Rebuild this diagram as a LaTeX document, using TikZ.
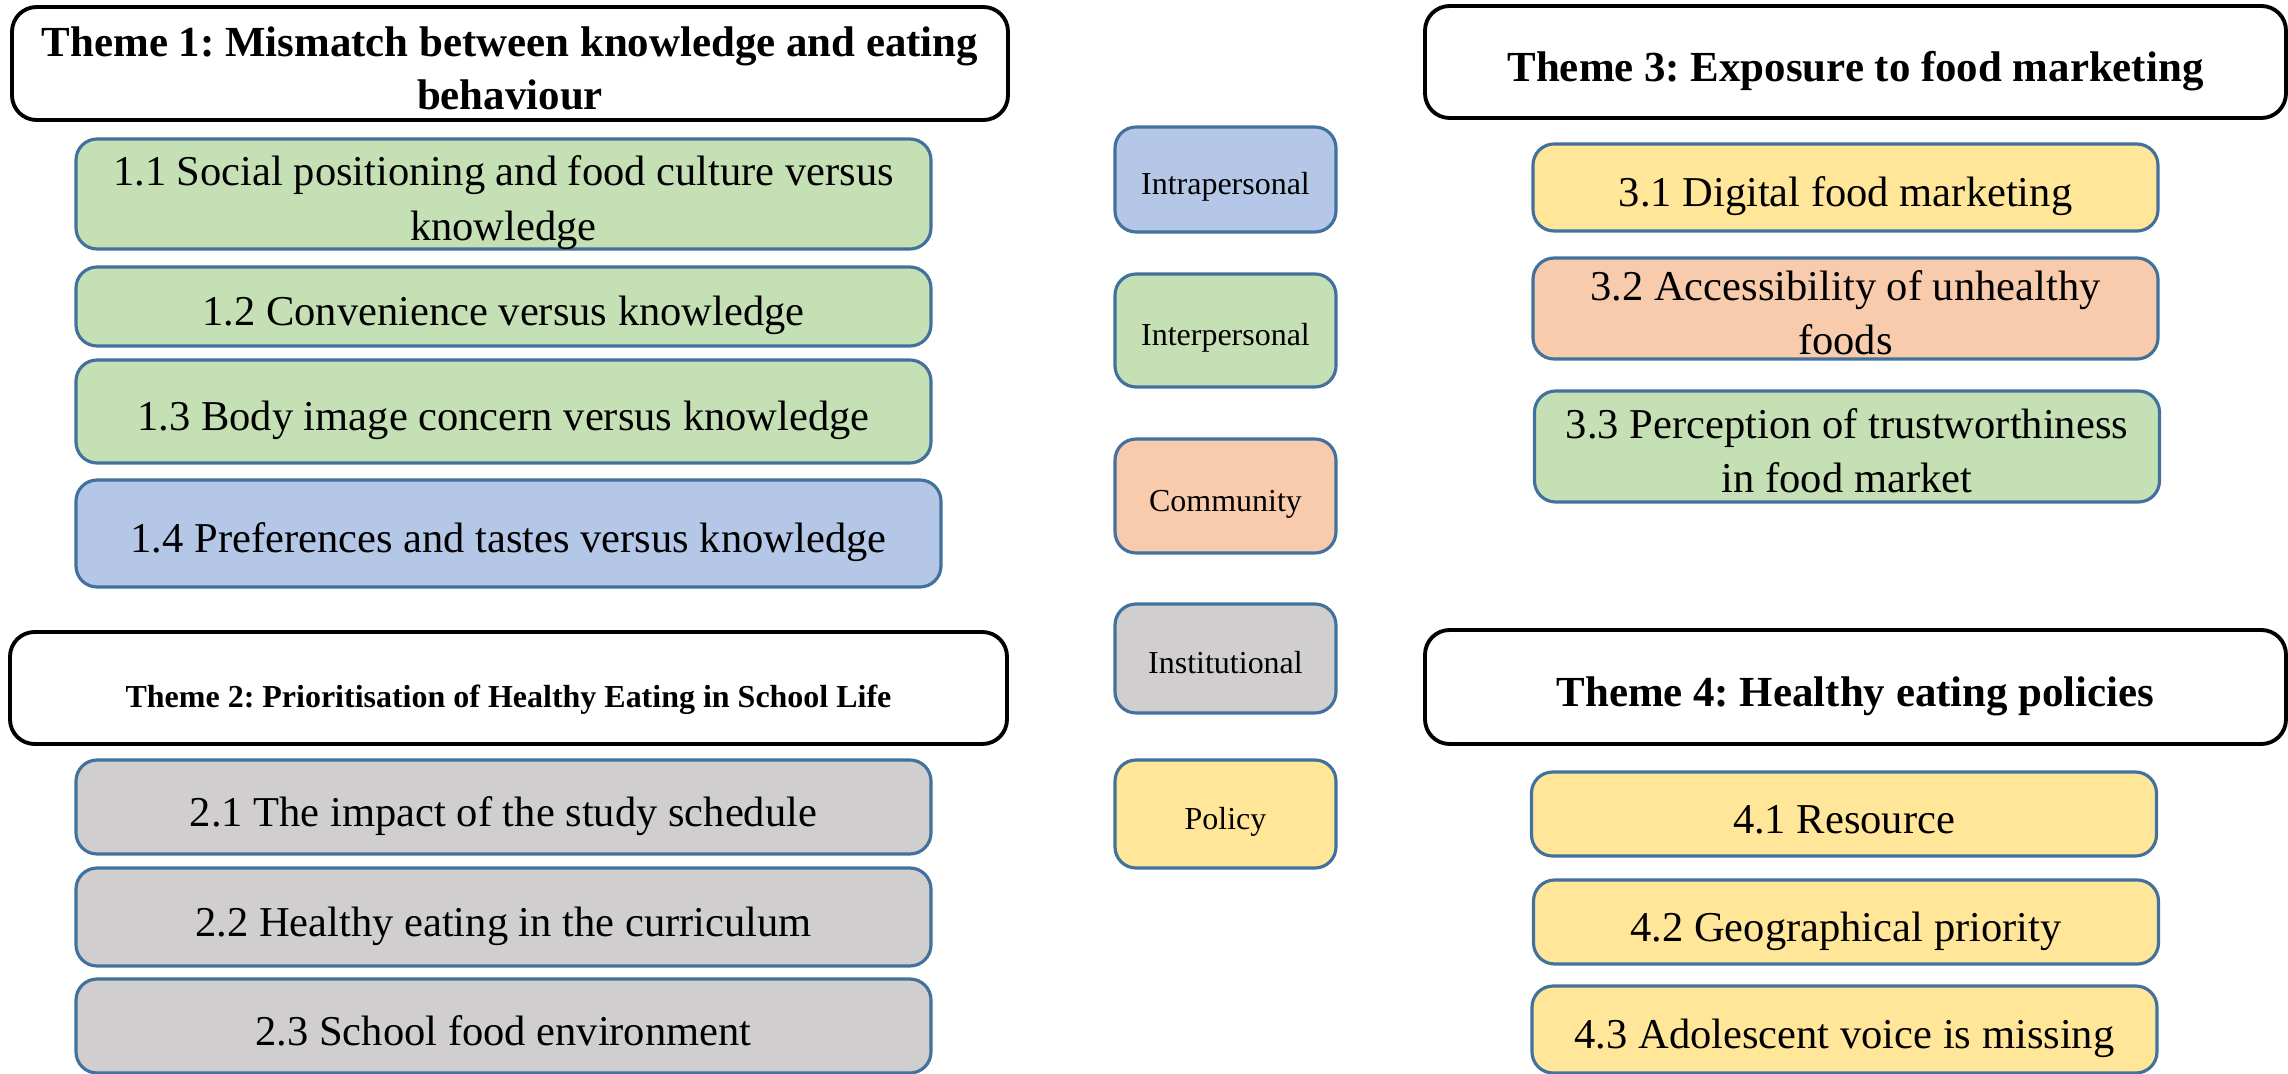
\documentclass[tikz,border=0pt]{standalone}
\usepackage{fontspec}
\setmainfont{Liberation Serif}
\frenchspacing
\definecolor{intra}{HTML}{B4C7E7}
\definecolor{inter}{HTML}{C5E0B4}
\definecolor{commun}{HTML}{F8CBAD}
\definecolor{instit}{HTML}{D0CECE}
\definecolor{polic}{HTML}{FFE699}
\definecolor{edge}{HTML}{41719C}
\newcommand{\lift}{\rule{0pt}{10.9pt}}
\tikzset{
  theme/.style={draw=black, line width=1.1pt, rounded corners=7pt, fill=white,
    align=center, inner sep=0pt, text depth=0pt, font=\bfseries\fontsize{12.2}{15}\selectfont,
    execute at begin node={\rule{0pt}{10.9pt}}},
  sub/.style={draw=edge, line width=0.9pt, rounded corners=6pt,
    align=center, inner sep=0pt, text depth=0pt, font=\fontsize{12.1}{15.5}\selectfont,
    execute at begin node={\rule{0pt}{10.9pt}}},
  level/.style={draw=edge, line width=0.9pt, rounded corners=6pt,
    align=center, inner sep=0pt, text depth=0pt, minimum width=2.21cm, font=\fontsize{9.1}{11}\selectfont,
    execute at begin node={\rule{0pt}{8.6pt}}}
}
\begin{document}
\begin{tikzpicture}
  \useasboundingbox (0,0) rectangle (22.88,-10.74);
  \node[theme, minimum width=9.96cm, minimum height=1.13cm] (t1) at (5.10,-0.635)
    {\lift Theme 1: Mismatch between knowledge and eating\\behaviour};
  \node[sub, fill=inter, minimum width=8.55cm, minimum height=1.10cm] (s11) at (5.035,-1.94)
    {\lift 1.1 Social positioning and food culture versus\\knowledge};
  \node[sub, fill=inter, minimum width=8.55cm, minimum height=0.79cm] (s12) at (5.035,-3.065)
    {1.2 Convenience versus knowledge};
  \node[sub, fill=inter, minimum width=8.55cm, minimum height=1.03cm] (s13) at (5.035,-4.115)
    {1.3 Body image concern versus knowledge};
  \node[sub, fill=intra, minimum width=8.65cm, minimum height=1.07cm] (s14) at (5.085,-5.335)
    {1.4 Preferences and tastes versus knowledge};

  \node[theme, font=\bfseries\fontsize{9.1}{11}\selectfont, execute at begin node={\rule{0pt}{8pt}},
    minimum width=9.97cm, minimum height=1.12cm] (t2) at (5.085,-6.88)
    {Theme 2: Prioritisation of Healthy Eating in School Life};
  \node[sub, fill=instit, minimum width=8.55cm, minimum height=0.94cm] (s21) at (5.035,-8.07)
    {2.1 The impact of the study schedule};
  \node[sub, fill=instit, minimum width=8.55cm, minimum height=0.98cm] (s22) at (5.035,-9.17)
    {2.2 Healthy eating in the curriculum};
  \node[sub, fill=instit, minimum width=8.55cm, minimum height=0.94cm] (s23) at (5.035,-10.26)
    {2.3 School food environment};

  \node[level, fill=intra, minimum height=1.05cm] (intra) at (12.255,-1.795) {Intrapersonal};
  \node[level, fill=inter, minimum height=1.13cm] (inter) at (12.255,-3.305) {Interpersonal};
  \node[level, fill=commun, minimum height=1.14cm] (commun) at (12.255,-4.96) {Community};
  \node[level, fill=instit, minimum height=1.09cm] (instit) at (12.255,-6.585) {Institutional};
  \node[level, fill=polic, minimum height=1.08cm] (polic) at (12.255,-8.14) {Policy};

  \node[theme, minimum width=8.61cm, minimum height=1.12cm] (t3) at (18.555,-0.62)
    {Theme 3: Exposure to food marketing};
  \node[sub, fill=polic, minimum width=6.25cm, minimum height=0.87cm] (s31) at (18.455,-1.875)
    {3.1 Digital food marketing};
  \node[sub, fill=commun, minimum width=6.25cm, minimum height=1.01cm] (s32) at (18.455,-3.085)
    {\lift 3.2 Accessibility of unhealthy\\foods};
  \node[sub, fill=inter, minimum width=6.25cm, minimum height=1.11cm] (s33) at (18.47,-4.465)
    {\lift 3.3 Perception of trustworthiness\\in food market};

  \node[theme, minimum width=8.61cm, minimum height=1.14cm] (t4) at (18.555,-6.87)
    {Theme 4: Healthy eating policies};
  \node[sub, fill=polic, minimum width=6.25cm, minimum height=0.84cm] (s41) at (18.44,-8.14)
    {4.1 Resource};
  \node[sub, fill=polic, minimum width=6.25cm, minimum height=0.84cm] (s42) at (18.46,-9.22)
    {4.2 Geographical priority};
  \node[sub, fill=polic, minimum width=6.25cm, minimum height=0.87cm] (s43) at (18.445,-10.295)
    {4.3 Adolescent voice is missing};
\end{tikzpicture}
\end{document}
